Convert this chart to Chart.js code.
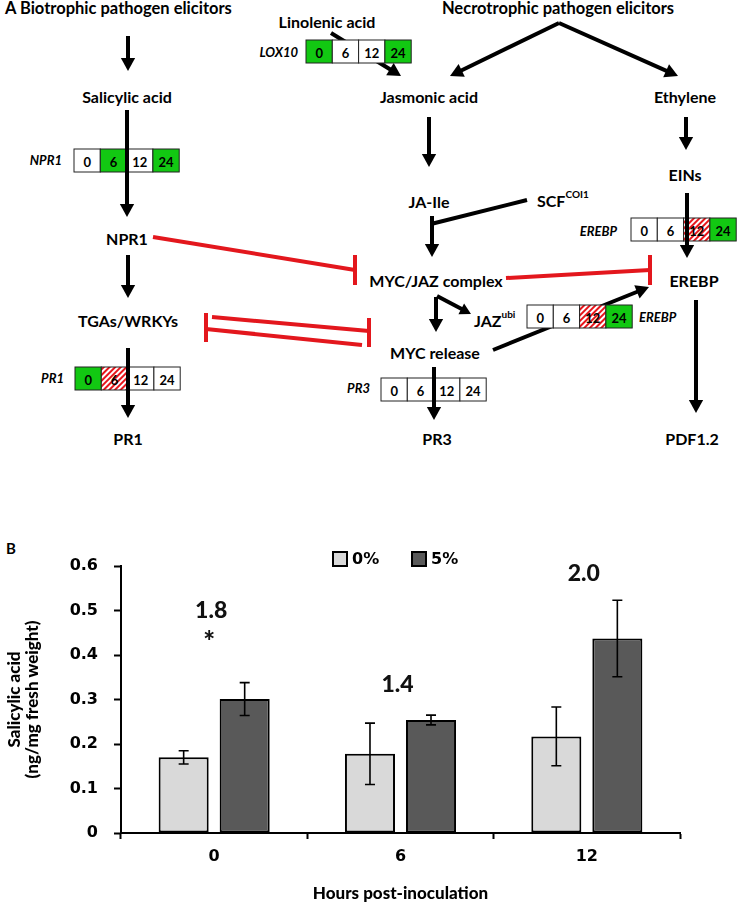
<!DOCTYPE html>
<html>
<head>
<meta charset="utf-8">
<script src="https://cdn.jsdelivr.net/npm/chart.js@4.4.0/dist/chart.umd.min.js"></script>
<style>
html,body{margin:0;padding:0;background:#fff;}
#wrap{position:relative;width:737px;height:906px;overflow:hidden;background:#fff;}
#diagram{position:absolute;left:0;top:0;}
#chartBox{position:absolute;left:0;top:520px;width:737px;height:386px;}
</style>
</head>
<body>
<div id="wrap">
<svg id="diagram" width="737" height="906" xmlns="http://www.w3.org/2000/svg">
  <defs>
    <pattern id="hatch" patternUnits="userSpaceOnUse" width="4" height="4" patternTransform="rotate(45)">
      <rect width="4" height="4" fill="#ffffff"/>
      <rect width="2" height="4" fill="#e8151b"/>
    </pattern>
  </defs>
</svg>
<div id="chartBox"><canvas id="c" width="737" height="386"></canvas></div>
</div>
<script>
// ---------- Panel B data ----------
const categories = ['0', '6', '12'];
const seriesLabels = ['0%', '5%'];
const values0 = [0.170, 0.178, 0.217];
const values5 = [0.301, 0.254, 0.437];
const err0 = [0.015, 0.069, 0.066];
const err5 = [0.037, 0.011, 0.086];
const foldLabels = ['1.8', '1.4', '2.0'];
const foldY = [0.500, 0.333, 0.584];
const starLabels = ['*', '', ''];
const starY = [0.440, null, null];
const yTickLabels = ['0', '0.1', '0.2', '0.3', '0.4', '0.5', '0.6'];
const xTitle = 'Hours post-inoculation';
const yTitle = ['Salicylic acid', '(ng/mg fresh weight)'];

// ---------- Panel A data (expression states per time point) ----------
const hours = ['0', '6', '12', '24'];
const lox10States = ['g', 'w', 'w', 'g'];
const npr1States = ['w', 'g', 'w', 'g'];
const erebpStates = ['w', 'w', 'h', 'g'];
const pr1States = ['g', 'h', 'w', 'w'];
const pr3States = ['w', 'w', 'w', 'w'];

// ---------- Panel A drawing ----------
const NS = 'http://www.w3.org/2000/svg';
const svg = document.getElementById('diagram');
const RED = '#e3171d';
const GREEN = '#12c812';
const FONT = 'Lato, "Open Sans", sans-serif';
function el(tag, attrs) {
  const e = document.createElementNS(NS, tag);
  for (const k in attrs) e.setAttribute(k, attrs[k]);
  svg.appendChild(e);
  return e;
}
function text(str, x, y, opt) {
  opt = opt || {};
  const t = el('text', {
    x: x, y: y,
    'text-anchor': opt.anchor || 'middle',
    'dominant-baseline': 'central',
    'font-family': FONT,
    'font-weight': 'bold',
    'font-size': opt.size || 16,
    'font-style': opt.italic ? 'italic' : 'normal',
    fill: '#000'
  });
  t.textContent = str;
  return t;
}
function supText(base, sup, x, y) {
  const t = el('text', {
    x: x, y: y, 'text-anchor': 'start', 'dominant-baseline': 'central',
    'font-family': FONT, 'font-weight': 'bold', 'font-size': 16, fill: '#000'
  });
  t.appendChild(document.createTextNode(base));
  const s = document.createElementNS(NS, 'tspan');
  s.setAttribute('font-size', '10');
  s.setAttribute('dy', '-6');
  s.textContent = sup;
  t.appendChild(s);
}
function arrow(x1, y1, x2, y2, head) {
  head = head || 13;
  const dx = x2 - x1, dy = y2 - y1, L = Math.hypot(dx, dy);
  const ux = dx / L, uy = dy / L;
  const bx = x2 - ux * head, by = y2 - uy * head;
  el('line', {x1: x1, y1: y1, x2: bx + ux, y2: by + uy, stroke: '#000', 'stroke-width': 4});
  const px = -uy, py = ux, hw = head * 0.55;
  el('polygon', {points: x2 + ',' + y2 + ' ' + (bx + px * hw) + ',' + (by + py * hw) + ' ' + (bx - px * hw) + ',' + (by - py * hw), fill: '#000'});
}
function line(x1, y1, x2, y2, color) {
  el('line', {x1: x1, y1: y1, x2: x2, y2: y2, stroke: color || '#000', 'stroke-width': 4});
}
function inhib(x1, y1, x2, y2, barY1, barY2) {
  el('line', {x1: x1, y1: y1, x2: x2, y2: y2, stroke: RED, 'stroke-width': 4});
  el('line', {x1: x2, y1: barY1, x2: x2, y2: barY2, stroke: RED, 'stroke-width': 4});
}
function geneBox(x, y, states) {
  const cw = 26.3, ch = 23;
  states.forEach(function (s, i) {
    const fill = s === 'g' ? GREEN : (s === 'h' ? 'url(#hatch)' : '#fff');
    el('rect', {x: x + i * cw, y: y, width: cw, height: ch, fill: fill, stroke: '#222', 'stroke-width': 1});
    text(hours[i], x + i * cw + cw / 2, y + ch / 2 + 1, {size: 13});
  });
}

// lines passing behind boxes
arrow(331, 33, 401, 76);
arrow(493, 350, 649, 287);

// boxes
geneBox(306, 40, lox10States);
geneBox(74, 149, npr1States);
geneBox(631, 218, erebpStates);
geneBox(527, 305, erebpStates);
geneBox(75, 367, pr1States);
geneBox(381, 378, pr3States);

// gene labels
text('LOX10', 298, 52, {size: 13, italic: true, anchor: 'end'});
text('NPR1', 62, 160, {size: 13, italic: true, anchor: 'end'});
text('EREBP', 617, 231, {size: 13, italic: true, anchor: 'end'});
text('EREBP', 639, 317, {size: 13, italic: true, anchor: 'start'});
text('PR1', 64, 378, {size: 13, italic: true, anchor: 'end'});
text('PR3', 370, 388, {size: 13, italic: true, anchor: 'end'});

// node labels
text('A Biotrophic pathogen elicitors', 5, 8, {anchor: 'start', size: 16.5});
text('Necrotrophic pathogen elicitors', 558, 8, {size: 16.5});
text('Linolenic acid', 327, 21);
text('Salicylic acid', 127, 96);
text('Jasmonic acid', 429, 96);
text('Ethylene', 685, 96);
text('EINs', 685, 174);
text('JA-Ile', 429, 201);
supText('SCF', 'COI1', 537, 200);
text('NPR1', 127, 238);
text('MYC/JAZ complex', 436, 280);
text('EREBP', 694, 280);
text('TGAs/WRKYs', 128, 320);
supText('JAZ', 'ubi', 474, 320);
text('MYC release', 435, 352);
text('PR1', 128, 438);
text('PR3', 437, 438);
text('PDF1.2', 692, 438);
text('B', 6, 548, {anchor: 'start', size: 15});

// black arrows
arrow(128, 36, 128, 71);
arrow(127, 110, 127, 217);
arrow(559, 23, 450, 76);
arrow(559, 23, 678, 76);
arrow(429, 117, 429, 167);
arrow(686, 117, 686, 150);
arrow(687, 193, 687, 258);
arrow(128, 255, 128, 298);
line(527, 200, 431, 224);
arrow(432, 216, 432, 257);
arrow(436, 297, 436, 332);
arrow(437, 296, 471, 314, 11);
arrow(128, 348, 128, 418);
arrow(434, 367, 434, 420);
arrow(696, 300, 696, 413);

// red inhibition lines
inhib(153, 237, 355, 270, 255, 285);
inhib(506, 278, 650, 270, 255, 285);
inhib(212, 317, 369, 331, 318, 347);
inhib(362, 345, 206, 329, 313, 342);

// ---------- Panel B chart ----------
const CFONT = 'Lato';
const errorBarsPlugin = {
  id: 'errorBars',
  afterDatasetsDraw(chart) {
    const c = chart.ctx, ys = chart.scales.y;
    const errs = [err0, err5];
    chart.data.datasets.forEach(function (ds, di) {
      const meta = chart.getDatasetMeta(di);
      meta.data.forEach(function (bar, i) {
        const v = ds.data[i], e = errs[di][i];
        const yt = ys.getPixelForValue(v + e), yb = ys.getPixelForValue(v - e);
        c.save();
        c.strokeStyle = '#000';
        c.lineWidth = 1.6;
        c.beginPath();
        c.moveTo(bar.x, yt); c.lineTo(bar.x, yb);
        c.moveTo(bar.x - 5, yt); c.lineTo(bar.x + 5, yt);
        c.moveTo(bar.x - 5, yb); c.lineTo(bar.x + 5, yb);
        c.stroke();
        c.restore();
      });
    });
  }
};
const annotationPlugin = {
  id: 'foldLabels',
  afterDraw(chart) {
    const c = chart.ctx, xs = chart.scales.x, ys = chart.scales.y;
    c.save();
    c.fillStyle = '#111';
    c.textAlign = 'center';
    c.textBaseline = 'middle';
    c.font = '900 23px ' + CFONT + ', sans-serif';
    foldLabels.forEach(function (lab, i) {
      c.fillText(lab, xs.getPixelForValue(i) - 3, ys.getPixelForValue(foldY[i]));
    });
    c.font = '900 28px ' + CFONT + ', sans-serif';
    starLabels.forEach(function (lab, i) {
      if (lab && starY[i] !== null) c.fillText(lab, xs.getPixelForValue(i) - 5, ys.getPixelForValue(starY[i]) + 5);
    });
    c.restore();
  }
};
const legendPlugin = {
  id: 'customLegend',
  afterDraw(chart) {
    const c = chart.ctx;
    const boxX = [333, 412];
    c.save();
    c.font = 'bold 16px "DejaVu Sans", sans-serif';
    c.textBaseline = 'middle';
    c.textAlign = 'left';
    chart.data.datasets.forEach(function (ds, i) {
      c.fillStyle = ds.backgroundColor;
      c.fillRect(boxX[i], 32, 14, 14);
      c.strokeStyle = '#000';
      c.lineWidth = 2;
      c.strokeRect(boxX[i], 32, 14, 14);
      c.fillStyle = '#000';
      c.fillText(ds.label, boxX[i] + 19, 40);
    });
    c.restore();
  }
};

function drawChart() {
  new Chart(document.getElementById('c'), {
    type: 'bar',
    data: {
      labels: categories,
      datasets: [
        {label: seriesLabels[0], data: values0, backgroundColor: '#d9d9d9', borderColor: '#000', borderWidth: 2, borderSkipped: false, categoryPercentage: 0.655, barPercentage: 0.82},
        {label: seriesLabels[1], data: values5, backgroundColor: '#595959', borderColor: '#000', borderWidth: 2, borderSkipped: false, categoryPercentage: 0.655, barPercentage: 0.82}
      ]
    },
    options: {
      responsive: false,
      animation: false,
      layout: {padding: {top: 46, right: 57, left: 0, bottom: 0}},
      plugins: {legend: {display: false}, tooltip: {enabled: false}},
      scales: {
        x: {
          offset: true,
          grid: {display: true, offset: true, drawOnChartArea: false, drawTicks: true, tickLength: 6, tickWidth: 2, tickColor: '#000'},
          border: {display: true, color: '#000', width: 2},
          ticks: {color: '#000', padding: 8, font: {family: 'DejaVu Sans', weight: 'bold', size: 16}},
          title: {display: true, text: xTitle, color: '#000', padding: {top: 0, bottom: 2}, font: {family: CFONT, weight: '900', size: 17}},
          afterFit: function (scale) { scale.height = 73; }
        },
        y: {
          min: 0, max: 0.6,
          grid: {display: true, drawOnChartArea: false, drawTicks: true, tickLength: 7, tickWidth: 2, tickColor: '#000'},
          border: {display: true, color: '#000', width: 2},
          ticks: {stepSize: 0.1, color: '#000', padding: 16, font: {family: 'DejaVu Sans', weight: 'bold', size: 16},
            callback: function (v, i) { return yTickLabels[i]; }},
          title: {display: true, text: yTitle, color: '#000', padding: {top: 6, bottom: 0}, font: {family: CFONT, weight: '900', size: 17, lineHeight: '18px'}},
          afterFit: function (scale) { scale.width = 121; }
        }
      }
    },
    plugins: [errorBarsPlugin, annotationPlugin, legendPlugin]
  });
}

const fontList = ['900 23px Lato', '900 17px Lato', 'bold 16px "DejaVu Sans"'];
if (document.fonts && document.fonts.load) {
  Promise.all(fontList.map(function (f) { return document.fonts.load(f); })).then(drawChart, drawChart);
} else {
  drawChart();
}
</script>
</body>
</html>
